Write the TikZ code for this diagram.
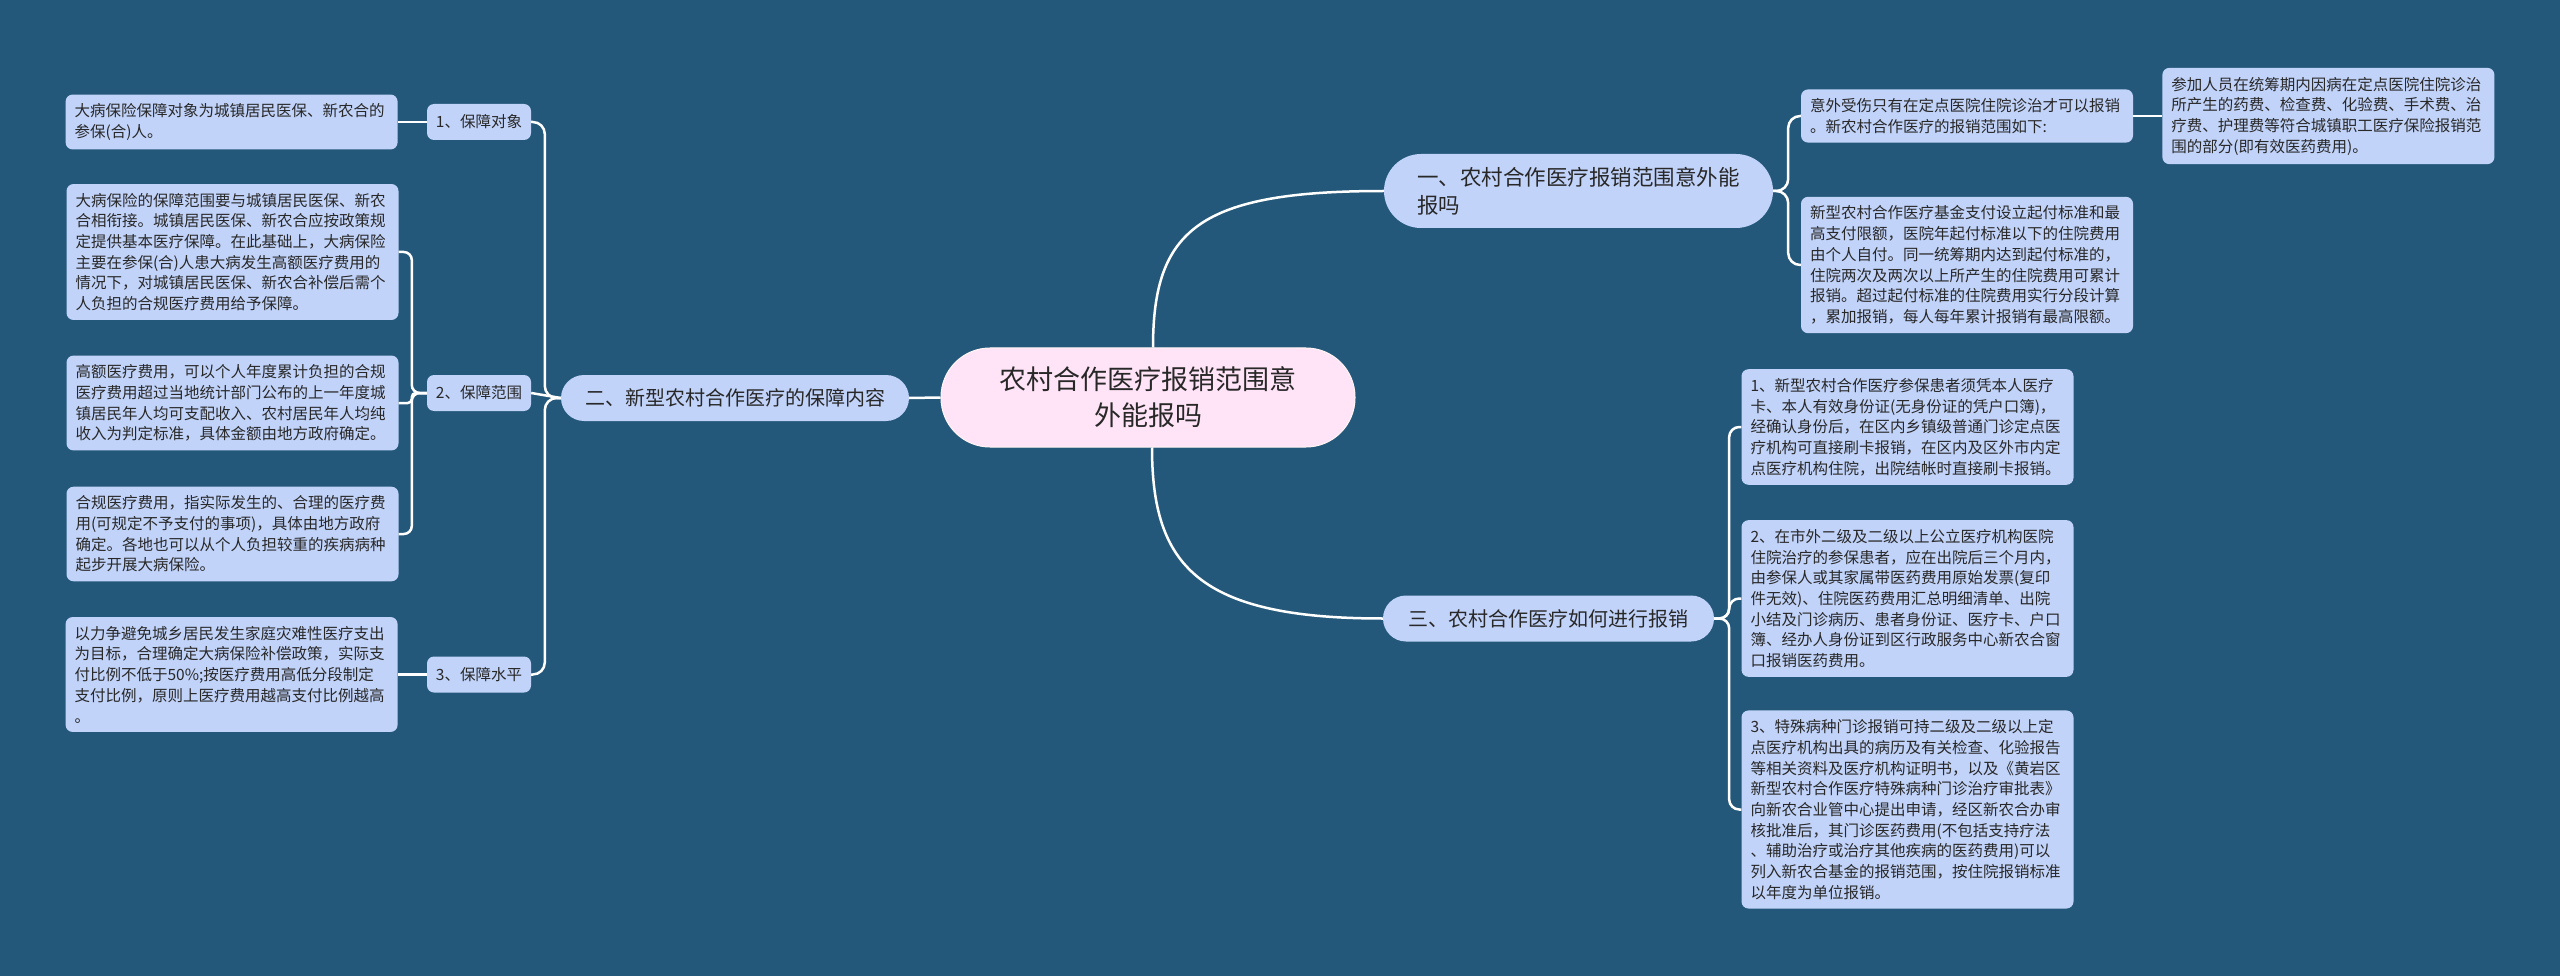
\documentclass[tikz,border=0pt]{standalone}
\usepackage{fontspec}
\setmainfont{Noto Sans CJK SC}
\usepackage{xcolor}
\usetikzlibrary{positioning}

\definecolor{bgblue}{RGB}{36,88,122}
\definecolor{leafblue}{RGB}{193,211,249}
\definecolor{rootpink}{RGB}{255,228,247}
\definecolor{inktext}{RGB}{40,40,40}

\begin{document}
\begin{tikzpicture}[x=1pt, y=-1pt,
    box/.style={fill=leafblue, text=inktext, rounded corners=7pt, inner sep=0pt},
    leaf/.style={box, text width=314pt, align=left, inner xsep=9pt, inner ysep=9pt,
                 font=\fontsize{15.5pt}{20.7pt}\selectfont},
    sub/.style={box, minimum width=104pt, minimum height=36pt,
                font=\fontsize{15.5pt}{20.7pt}\selectfont},
    branch/.style={box, rounded corners=23pt, minimum height=46pt,
                   font=\fontsize{20pt}{28pt}\selectfont},
    rootnode/.style={fill=rootpink, draw=white!85!pink, line width=1pt, rounded corners=49pt,
                     minimum width=414pt, minimum height=99pt, align=center, text=inktext,
                     font=\fontsize{27pt}{36pt}\selectfont},
    link/.style={draw=white, line width=2.5pt},
    fork/.style={link, rounded corners=12pt}
  ]
  \fill[bgblue] (0,0) rectangle (2560,976);

  % centre and main branches
  \node[rootnode] (root) at (1148,397.5) {农村合作医疗报销范围意\\外能报吗};
  \node[branch, minimum width=389pt, minimum height=74pt, rounded corners=37pt, align=left,
        font=\fontsize{21.5pt}{28pt}\selectfont] (sec1) at (1578.5,191)
        {一、农村合作医疗报销范围意外能\\报吗};
  \node[branch, minimum width=348pt] (sec2) at (735,398) {二、新型农村合作医疗的保障内容};
  \node[branch, minimum width=331pt] (sec3) at (1548.5,618.5) {三、农村合作医疗如何进行报销};

  % left side
  \node[sub] (target) at (479,122) {1、保障对象};
  \node[sub] (range) at (479,393) {2、保障范围};
  \node[sub] (level) at (479,674.5) {3、保障水平};

  \node[leaf, left=29pt of target] (targettxt)
    {大病保险保障对象为城镇居民医保、新农合的\\参保(合)人。};
  \node[leaf] (range1) at (232.5,252)
    {大病保险的保障范围要与城镇居民医保、新农\\合相衔接。城镇居民医保、新农合应按政策规\\定提供基本医疗保障。在此基础上，大病保险\\主要在参保(合)人患大病发生高额医疗费用的\\情况下，对城镇居民医保、新农合补偿后需个\\人负担的合规医疗费用给予保障。};
  \node[leaf] (range2) at (232.5,403)
    {高额医疗费用，可以个人年度累计负担的合规\\医疗费用超过当地统计部门公布的上一年度城\\镇居民年人均可支配收入、农村居民年人均纯\\收入为判定标准，具体金额由地方政府确定。};
  \node[leaf] (range3) at (232.5,534)
    {合规医疗费用，指实际发生的、合理的医疗费\\用(可规定不予支付的事项)，具体由地方政府\\确定。各地也可以从个人负担较重的疾病病种\\起步开展大病保险。};
  \node[leaf, left=29pt of level] (leveltxt)
    {以力争避免城乡居民发生家庭灾难性医疗支出\\为目标，合理确定大病保险补偿政策，实际支\\付比例不低于50\%;按医疗费用高低分段制定\\支付比例，原则上医疗费用越高支付比例越高\\。};

  % right side, upper
  \node[leaf] (acc) at (1967,116)
    {意外受伤只有在定点医院住院诊治才可以报销\\。新农村合作医疗的报销范围如下:};
  \node[leaf, right=29pt of acc] (accscope)
    {参加人员在统筹期内因病在定点医院住院诊治\\所产生的药费、检查费、化验费、手术费、治\\疗费、护理费等符合城镇职工医疗保险报销范\\围的部分(即有效医药费用)。};
  \node[leaf] (deduct) at (1967,265)
    {新型农村合作医疗基金支付设立起付标准和最\\高支付限额，医院年起付标准以下的住院费用\\由个人自付。同一统筹期内达到起付标准的，\\住院两次及两次以上所产生的住院费用可累计\\报销。超过起付标准的住院费用实行分段计算\\，累加报销，每人每年累计报销有最高限额。};

  % right side, lower
  \node[leaf] (proc1) at (1907.5,427)
    {1、新型农村合作医疗参保患者须凭本人医疗\\卡、本人有效身份证(无身份证的凭户口簿)，\\经确认身份后，在区内乡镇级普通门诊定点医\\疗机构可直接刷卡报销，在区内及区外市内定\\点医疗机构住院，出院结帐时直接刷卡报销。};
  \node[leaf] (proc2) at (1907.5,598.5)
    {2、在市外二级及二级以上公立医疗机构医院\\住院治疗的参保患者，应在出院后三个月内，\\由参保人或其家属带医药费用原始发票(复印\\件无效)、住院医药费用汇总明细清单、出院\\小结及门诊病历、患者身份证、医疗卡、户口\\簿、经办人身份证到区行政服务中心新农合窗\\口报销医药费用。};
  \node[leaf] (proc3) at (1907.5,809.5)
    {3、特殊病种门诊报销可持二级及二级以上定\\点医疗机构出具的病历及有关检查、化验报告\\等相关资料及医疗机构证明书，以及《黄岩区\\新型农村合作医疗特殊病种门诊治疗审批表》\\向新农合业管中心提出申请，经区新农合办审\\核批准后，其门诊医药费用(不包括支持疗法\\、辅助治疗或治疗其他疾病的医药费用)可以\\列入新农合基金的报销范围，按住院报销标准\\以年度为单位报销。};

  % connectors
  \draw[link] (root.west) -- (sec2.east);
  \draw[link] ([xshift=5pt]root.north) .. controls +(0,-118) and +(-185,0) .. (sec1.west);
  \draw[link] ([xshift=4pt]root.south) .. controls +(0,118) and +(-185,0) .. (sec3.west);

  \draw[fork] (sec2.west) -- ++(-16,0) |- (target.east);
  \draw[link] (sec2.west) -- (range.east);
  \draw[fork] (sec2.west) -- ++(-16,0) |- (level.east);
  \draw[link] (target.west) -- (targettxt.east);
  \draw[link, rounded corners=8pt] (range.west) -- ++(-15,0) |- (range1.east);
  \draw[link, rounded corners=4pt] (range.west) -- ++(-15,0) |- (range2.east);
  \draw[link, rounded corners=8pt] (range.west) -- ++(-15,0) |- (range3.east);
  \draw[link] (level.west) -- (leveltxt.east);

  \draw[fork] (sec1.east) -- ++(15,0) |- (acc.west);
  \draw[fork] (sec1.east) -- ++(15,0) |- (deduct.west);
  \draw[link] (acc.east) -- (accscope.west);

  \draw[fork, rounded corners=10pt] (sec3.east) -- ++(15,0) |- (proc1.west);
  \draw[fork, rounded corners=10pt] (sec3.east) -- ++(15,0) |- (proc2.west);
  \draw[fork, rounded corners=10pt] (sec3.east) -- ++(15,0) |- (proc3.west);
\end{tikzpicture}
\end{document}
